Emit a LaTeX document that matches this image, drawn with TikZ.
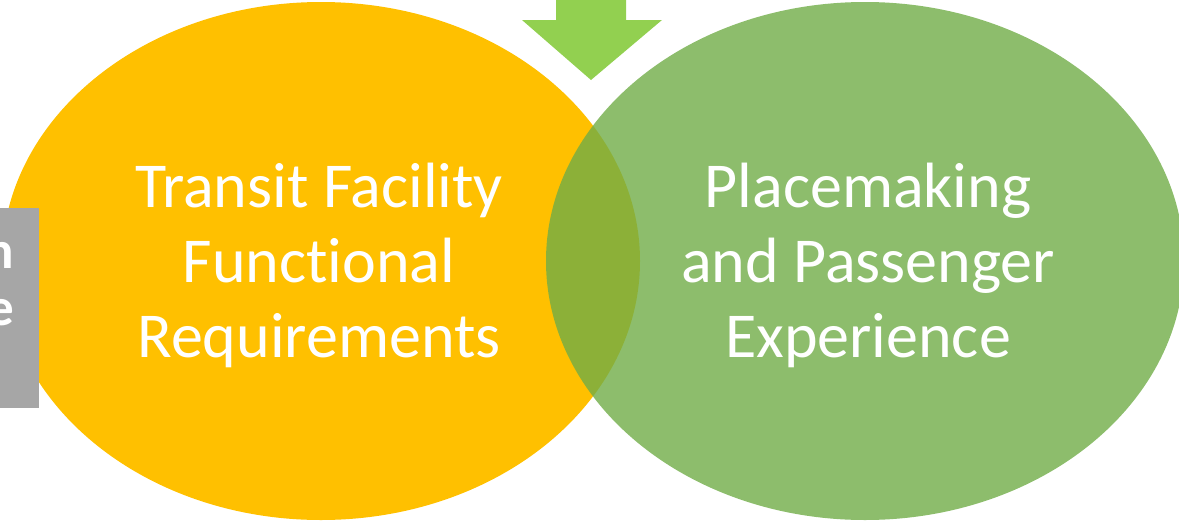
\documentclass[tikz,border=0pt]{standalone}
\usepackage{fontspec}
\setmainfont{Carlito}[Ligatures=NoCommon]
\usetikzlibrary{shapes.geometric}

\definecolor{amber}{HTML}{FFC000}
\definecolor{leaf}{HTML}{70AD47}
\definecolor{lime}{HTML}{92D050}
\definecolor{slate}{HTML}{A6A6A6}

\tikzset{
  circle label/.style={text=white, align=center, font=\fontsize{64}{75}\selectfont},
  venn/.style={ellipse, minimum width=638pt, minimum height=518pt, inner sep=0pt}
}

\begin{document}
\begin{tikzpicture}[x=1pt,y=-1pt]
\useasboundingbox (0,0) rectangle (1179,520);
\clip (0,0) rectangle (1179,520);
\node[venn, fill=amber] (facility) at (321,261) {};
\node[venn, fill=leaf, fill opacity=0.8] (place) at (865,261) {};
\node[circle label] (facilitytext) at (319,265) {Transit Facility\\Functional\\Requirements};
\node[circle label] (placetext) at (868,265) {Placemaking\\and Passenger\\Experience};
% arrow on top
\fill[lime] (556,0) -- (626,0) -- (626,20) -- (662,20) -- (591,80) -- (522,20) -- (556,20) -- cycle;
% side box, cut by the edge
\node[fill=slate, minimum width=39pt, minimum height=200pt, inner sep=0pt, anchor=north west] (sidebox) at (0,208) {};
\node[text=white, align=right, inner sep=0pt, anchor=east, font=\fontsize{53}{57}\bfseries\selectfont] (sidetext) at (14,284) {n\\e};
\end{tikzpicture}
\end{document}
